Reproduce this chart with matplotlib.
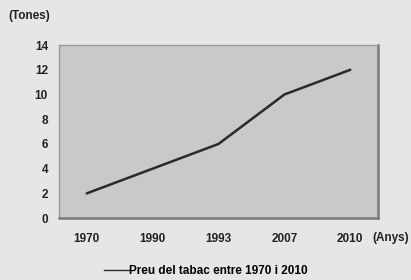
import numpy as np
import matplotlib.pyplot as plt

# dades
anys = ["1970", "1990", "1993", "2007", "2010"]
preu = [2, 4, 6, 10, 12]
yticks = [0, 2, 4, 6, 8, 10, 12, 14]

plt.rcParams['font.family'] = ['Liberation Sans', 'DejaVu Sans']
plt.rcParams['font.weight'] = 'bold'

fig = plt.figure(figsize=(4.11, 2.8), dpi=100, facecolor='#e6e6e6')
ax = fig.add_axes([0.1436, 0.221, 0.776, 0.618])
ax.set_facecolor('#c9c9c9')

x = np.arange(len(anys))
ax.plot(x, preu, color='#2a2a2a', lw=1.8, solid_capstyle='round')

ax.set_xlim(-0.42, len(anys) - 0.58)
ax.set_ylim(0, 14)
ax.set_yticks(yticks)
ax.set_xticks(x)
ax.set_xticklabels(anys)
ax.tick_params(length=0, labelsize=8.5, colors='#222222')
ax.tick_params(axis='y', pad=8)
ax.tick_params(axis='x', pad=11)
for lab in ax.get_xticklabels() + ax.get_yticklabels():
    lab.set_fontweight('bold')

for s in ['top', 'left']:
    ax.spines[s].set_color('#9a9a9a')
    ax.spines[s].set_linewidth(1.0)
for s in ['right', 'bottom']:
    ax.spines[s].set_color('#7a7a7a')
    ax.spines[s].set_linewidth(1.8)

fig.text(0.02, 0.943, "(Tones)", fontsize=8.5, fontweight='bold', color='#222222', va='center')
fig.text(0.907, 0.15, "(Anys)", fontsize=8.5, fontweight='bold', color='#222222', va='center')

# llegenda
leg_line, = ax.plot([], [], color='#2a2a2a', lw=1.0, label="Preu del tabac entre 1970 i 2010")
fig.legend(handles=[leg_line], loc='center', bbox_to_anchor=(0.5, 0.032), frameon=False,
           handlelength=2.1, handletextpad=0.0,
           prop={'weight': 'bold', 'size': 8.5})

fig.savefig("out.png", dpi=100, facecolor=fig.get_facecolor())
